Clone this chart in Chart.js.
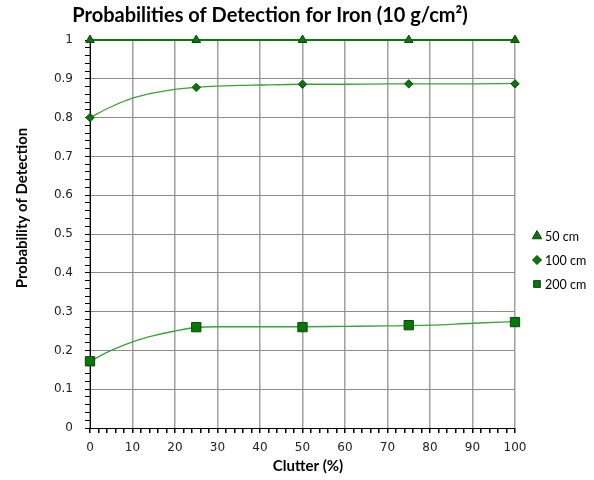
<!DOCTYPE html>
<html>
<head>
<meta charset="utf-8">
<script src="https://cdn.jsdelivr.net/npm/chart.js@4"></script>
<style>
  html, body { margin: 0; padding: 0; background: #fff; }
  #wrap { width: 594px; height: 480px; }
</style>
</head>
<body>
<div id="wrap"><canvas id="podChart" width="594" height="480"></canvas></div>
<script>
// measured detection probabilities per burial depth
const clutter = [0, 25, 50, 75, 100];
const pod50 = [1, 1, 1, 1, 1];
const pod100 = [0.80, 0.878, 0.886, 0.887, 0.887];
const pod200 = [0.172, 0.260, 0.260, 0.265, 0.273];

// fitted trend curves
const fitX = [0, 5, 10, 15, 20, 25, 30, 40, 50, 60, 70, 80, 90, 100];
const fit100 = [0.800, 0.828, 0.850, 0.864, 0.873, 0.878, 0.881, 0.884, 0.886, 0.886, 0.887, 0.887, 0.887, 0.888];
const fit200 = [0.172, 0.200, 0.222, 0.238, 0.250, 0.259, 0.261, 0.261, 0.261, 0.262, 0.263, 0.265, 0.270, 0.274];
const fit50X = [0, 100];
const fit50 = [1, 1];

const seriesNames = ['50 cm', '100 cm', '200 cm'];
const titleText = 'Probabilities of Detection for Iron (10 g/cm²)';
const xTitle = 'Clutter (%)';
const yTitle = 'Probability of Detection';

const FONT = 'Lato, "Open Sans", sans-serif';
const TICK_FONT = '"DejaVu Sans", Verdana, sans-serif';

function pts(xs, ys) {
    return xs.map((x, i) => ({ x: x, y: ys[i] }));
}

const markerStyle = [
    { pointStyle: 'triangle', radius: 5 },
    { pointStyle: 'rectRot', radius: 4.2 },
    { pointStyle: 'rect', radius: 6.6 }
];
const markerFill = '#007a00';
const markerEdge = '#1d3d1d';

function markerSet(label, ys, k) {
    return {
        label: label,
        data: pts(clutter, ys),
        showLine: false,
        pointStyle: markerStyle[k].pointStyle,
        pointRadius: markerStyle[k].radius,
        pointBackgroundColor: markerFill,
        pointBorderColor: markerEdge,
        pointBorderWidth: 1,
        clip: false,
        order: 0
    };
}

function curveSet(xs, ys, color, width) {
    return {
        label: '',
        data: pts(xs, ys),
        showLine: true,
        pointRadius: 0,
        borderColor: color,
        borderWidth: width,
        cubicInterpolationMode: 'monotone',
        clip: false,
        order: 1
    };
}

// titles and the legend are laid out by hand around the plot
const labelsPlugin = {
    id: 'labels',
    afterDraw(chart) {
        const ctx = chart.ctx;
        ctx.save();
        ctx.fillStyle = '#000';
        ctx.textBaseline = 'middle';

        ctx.font = 'bold 20px ' + FONT;
        ctx.textAlign = 'center';
        ctx.fillText(titleText, 270, 16);

        ctx.font = 'bold 15px ' + FONT;
        ctx.fillText(xTitle, 308, 466);

        ctx.translate(22, 208);
        ctx.rotate(-Math.PI / 2);
        ctx.font = 'bold 15px ' + FONT;
        ctx.fillText(yTitle, 0, 0);
        ctx.restore();

        ctx.save();
        ctx.font = '12.5px ' + FONT;
        ctx.textAlign = 'left';
        ctx.textBaseline = 'middle';
        const rows = [236, 260, 284];
        const sizes = [5.5, 4.5, 4.8];
        seriesNames.forEach((name, k) => {
            ctx.fillStyle = markerFill;
            ctx.strokeStyle = markerEdge;
            ctx.lineWidth = 1;
            Chart.helpers.drawPoint(ctx, {
                pointStyle: markerStyle[k].pointStyle,
                radius: sizes[k],
                rotation: 0,
                borderWidth: 1
            }, 537, rows[k]);
            ctx.fillStyle = '#000';
            ctx.fillText(name, 545, rows[k] + 1);
        });
        ctx.restore();
    }
};

function isMajor(v, per) {
    return Math.abs(v * per - Math.round(v * per)) < 1e-6;
}

const ctx = document.getElementById('podChart').getContext('2d');
const podChart = new Chart(ctx, {
    type: 'scatter',
    data: {
        datasets: [
            markerSet(seriesNames[0], pod50, 0),
            markerSet(seriesNames[1], pod100, 1),
            markerSet(seriesNames[2], pod200, 2),
            curveSet(fit50X, fit50, '#0a7a0a', 2),
            curveSet(fitX, fit100, '#3aa23a', 1.3),
            curveSet(fitX, fit200, '#3aa23a', 1.3)
        ]
    },
    options: {
        responsive: false,
        animation: false,
        layout: { padding: { top: 40, right: 79, bottom: 0, left: 0 } },
        plugins: {
            legend: { display: false },
            title: { display: false },
            tooltip: { enabled: false }
        },
        scales: {
            x: {
                type: 'linear',
                min: 0,
                max: 100,
                afterFit: function (axis) { axis.height = 52; },
                border: { color: '#000', width: 1 },
                grid: {
                    color: c => (c.tick && isMajor(c.tick.value / 10, 1)) ? '#a0a0a0' : 'rgba(0,0,0,0)',
                    lineWidth: 1.5,
                    tickColor: '#000',
                    tickLength: 5
                },
                ticks: {
                    stepSize: 2,
                    autoSkip: false,
                    maxRotation: 0,
                    padding: 8,
                    color: '#222',
                    font: { family: TICK_FONT, size: 12 },
                    callback: v => isMajor(v / 10, 1) ? String(Math.round(v)) : ''
                }
            },
            y: {
                min: 0,
                max: 1,
                afterFit: function (axis) { axis.width = 90; },
                border: { color: '#000', width: 1 },
                grid: {
                    color: c => (c.tick && isMajor(c.tick.value, 10)) ? '#8c8c8c' : 'rgba(0,0,0,0)',
                    lineWidth: 1,
                    tickColor: '#000',
                    tickLength: 5
                },
                ticks: {
                    stepSize: 0.02,
                    autoSkip: false,
                    padding: 12,
                    color: '#222',
                    font: { family: TICK_FONT, size: 12 },
                    callback: v => isMajor(v, 10) ? String(Math.round(v * 10) / 10) : ''
                }
            }
        }
    },
    plugins: [labelsPlugin]
});
</script>
</body>
</html>
